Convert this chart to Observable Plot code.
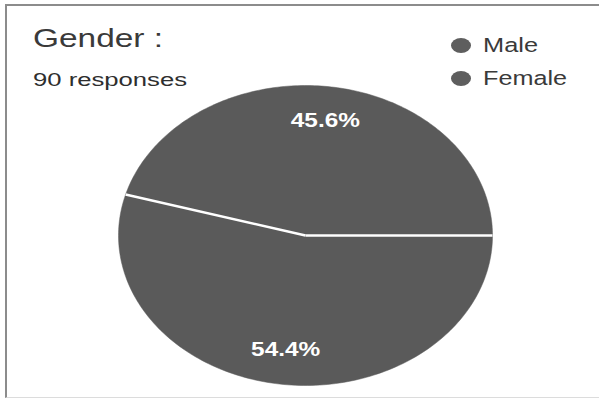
<!DOCTYPE html>
<html><head><meta charset="utf-8">
<script src="https://cdn.jsdelivr.net/npm/d3@7"></script>
<script src="https://cdn.jsdelivr.net/npm/@observablehq/plot@0.6"></script>
<style>
body{margin:0;background:#fff;}
#wrap{position:relative;width:599px;height:398px;overflow:hidden;font-family:"Liberation Sans",Arial,sans-serif;background:#fff;}
#wrap svg{position:absolute;left:0;top:0;}
#frame{position:absolute;left:5px;top:4px;width:600px;height:391px;border-left:2px solid #8c8c8c;border-top:2px solid #8c8c8c;border-bottom:1px solid #dcdcdc;pointer-events:none;}
.t{position:absolute;transform-origin:0 0;white-space:nowrap;line-height:1;}
.dot{position:absolute;border-radius:50%;background:#5e5e5e;}
</style></head><body>
<div id="wrap"></div>
<script>
// ---- data ----
const title = "Gender :";
const subtitle = "90 responses";
const genders = ["Male", "Female"];
const percents = [45.6, 54.4];

// ---- layout ----
const cx = 305, cy = 235, rx = 187, ry = 150;
const pieColor = "#5a5a5a";
const wrap = document.getElementById("wrap");

// pie geometry (slices start at 3 o'clock, counter-clockwise)
const total = d3.sum(percents);
let acc = 0;
const slices = genders.map((g, i) => {
  const a0 = acc / total * 2 * Math.PI;
  acc += percents[i];
  const a1 = acc / total * 2 * Math.PI;
  return {gender: g, a0, a1, pct: percents[i]};
});
const outline = slices.flatMap(s => {
  const n = 160, pts = [{gender: s.gender, x: 0, y: 0}];
  for (let k = 0; k <= n; k++) {
    const a = s.a0 + (s.a1 - s.a0) * k / n;
    pts.push({gender: s.gender, x: Math.cos(a), y: Math.sin(a)});
  }
  pts.push({gender: s.gender, x: 0, y: 0});
  return pts;
});
const dividers = slices.map(s => ({x1: 0, y1: 0, x2: Math.cos(s.a0), y2: Math.sin(s.a0)}));
const labels = slices.map(s => {
  const m = (s.a0 + s.a1) / 2;
  return {x: 0.77 * Math.cos(m), y: 0.77 * Math.sin(m), text: d3.format(".1f")(s.pct) + "%"};
});

const chart = Plot.plot({
  width: 599, height: 398, margin: 0,
  style: {background: "transparent", fontFamily: "'Liberation Sans', Arial, sans-serif"},
  x: {domain: [-1, 1], range: [cx - rx, cx + rx], axis: null},
  y: {domain: [-1, 1], range: [cy + ry, cy - ry], axis: null},
  marks: [
    Plot.line(outline, {x: "x", y: "y", z: "gender", fill: pieColor, stroke: pieColor, strokeWidth: 0.5}),
    Plot.link(dividers, {x1: "x1", y1: "y1", x2: "x2", y2: "y2", stroke: "white", strokeWidth: 2.5}),
    Plot.text(labels, {x: "x", y: "y", text: "text", fill: "white", fontSize: 19.5, fontWeight: "bold"})
  ]
});
wrap.appendChild(chart);
// horizontal stretch of the scanned picture
chart.querySelectorAll("text").forEach(t => {
  const len = t.getComputedTextLength();
  t.setAttribute("textLength", (len * 1.25).toFixed(1));
  t.setAttribute("lengthAdjust", "spacingAndGlyphs");
});

function addText(str, x, baseline, fs, targetW, color, weight) {
  const d = document.createElement("div");
  d.className = "t";
  d.textContent = str;
  d.style.left = x + "px";
  d.style.top = (baseline - 0.8465 * fs) + "px";
  d.style.fontSize = fs + "px";
  d.style.color = color;
  if (weight) d.style.fontWeight = weight;
  wrap.appendChild(d);
  const w = d.getBoundingClientRect().width;
  d.style.transform = `scaleX(${targetW / w})`;
}
addText(title, 33, 47, 26, 130, "#3a3a3a");
addText(subtitle, 33, 87, 17.5, 154, "#2e2e2e");

// legend
const legendRows = [{y: 45, w: 55}, {y: 78, w: 84}];
genders.forEach((g, i) => {
  const dot = document.createElement("div");
  dot.className = "dot";
  dot.style.left = (461 - 10) + "px";
  dot.style.top = (legendRows[i].y - 7.5) + "px";
  dot.style.width = "20px";
  dot.style.height = "15px";
  wrap.appendChild(dot);
  addText(g, 483, legendRows[i].y + 7, 20.5, legendRows[i].w, "#3a3a3a");
});

const frame = document.createElement("div");
frame.id = "frame";
wrap.appendChild(frame);
</script>
</body></html>
